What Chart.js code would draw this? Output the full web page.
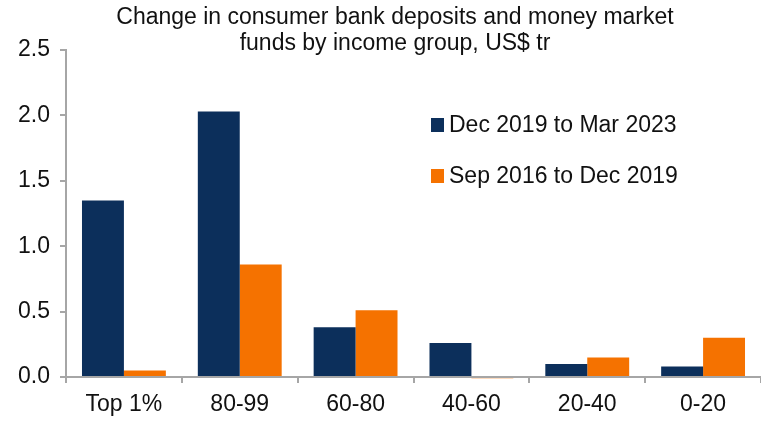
<!DOCTYPE html>
<html>
<head>
<meta charset="utf-8">
<script src="https://cdn.jsdelivr.net/npm/chart.js@4/dist/chart.umd.min.js"></script>
<style>
  html, body { margin: 0; padding: 0; background: #fff; }
  #wrap { width: 761px; height: 421px; position: relative; }
</style>
</head>
<body>
<div id="wrap"><canvas id="c"></canvas></div>
<script>
// Income groups along the x axis
const categories = ['Top 1%', '80-99', '60-80', '40-60', '20-40', '0-20'];
// Change in deposits + money market funds, US$ tr
const recentChange = [1.35, 2.03, 0.38, 0.26, 0.10, 0.08];
const earlierChange = [0.05, 0.86, 0.51, -0.01, 0.15, 0.30];
const seriesNames = ['Dec 2019 to Mar 2023', 'Sep 2016 to Dec 2019'];
const titleLines = ['Change in consumer bank deposits and money market', 'funds by income group, US$ tr'];
const yTicks = [0, 0.5, 1.0, 1.5, 2.0, 2.5];

const NAVY = '#0c2f5b';
const ORANGE = '#f57200';
const AXIS = '#a6a6a6';
const TEXT = '#111111';
const FONT = 'Arial, "Liberation Sans", sans-serif';

// Two-line heading above the plot
const titlePlugin = {
  id: 'headingText',
  afterDraw(chart) {
    const ctx = chart.ctx;
    ctx.save();
    ctx.font = '23px ' + FONT;
    ctx.fillStyle = TEXT;
    ctx.textAlign = 'center';
    ctx.textBaseline = 'middle';
    titleLines.forEach((t, i) => ctx.fillText(t, 395, 18 + i * 26));
    ctx.restore();
  }
};

// Legend placed inside the plot area, upper right
const innerLegend = {
  id: 'innerLegend',
  afterDraw(chart) {
    const ctx = chart.ctx;
    const area = chart.chartArea;
    const x0 = area.left + 365;
    const y0 = area.top + 75;
    ctx.save();
    ctx.font = '23px ' + FONT;
    ctx.textBaseline = 'middle';
    ctx.textAlign = 'left';
    chart.data.datasets.forEach((ds, i) => {
      const y = y0 + i * 51;
      ctx.fillStyle = ds.backgroundColor;
      ctx.fillRect(x0, y - 7, 13, 14);
      ctx.fillStyle = TEXT;
      ctx.fillText(ds.label, x0 + 18, y + 1);
    });
    ctx.restore();
  }
};

new Chart(document.getElementById('c'), {
  type: 'bar',
  data: {
    labels: categories,
    datasets: [
      { label: seriesNames[0], data: recentChange, backgroundColor: NAVY },
      { label: seriesNames[1], data: earlierChange, backgroundColor: ORANGE, clip: false }
    ]
  },
  options: {
    responsive: true,
    maintainAspectRatio: false,
    animation: false,
    devicePixelRatio: 1,
    categoryPercentage: 0.724,
    barPercentage: 1.0,
    layout: { padding: { top: 50, right: 0, bottom: 0, left: 0 } },
    plugins: {
      legend: { display: false },
      title: { display: false },
      tooltip: { enabled: false }
    },
    scales: {
      x: {
        type: 'category',
        offset: true,
        afterFit(scale) { scale.height = 44; },
        grid: {
          offset: true,
          drawOnChartArea: false,
          drawTicks: true,
          tickLength: 6,
          color: AXIS,
          lineWidth: 2
        },
        border: { color: AXIS, width: 2 },
        ticks: {
          color: TEXT,
          font: { family: FONT, size: 23 },
          padding: 8,
          maxRotation: 0
        }
      },
      y: {
        min: 0,
        max: 2.5,
        afterBuildTicks(scale) {
          scale.ticks = yTicks.map(v => ({ value: v }));
        },
        afterFit(scale) { scale.width = 66; },
        grid: {
          drawOnChartArea: false,
          drawTicks: true,
          tickLength: 6,
          color: AXIS,
          lineWidth: 2
        },
        border: { color: AXIS, width: 2 },
        ticks: {
          color: TEXT,
          font: { family: FONT, size: 23 },
          padding: 10,
          callback: v => Number(v).toFixed(1)
        }
      }
    }
  },
  plugins: [titlePlugin, innerLegend]
});
</script>
</body>
</html>
